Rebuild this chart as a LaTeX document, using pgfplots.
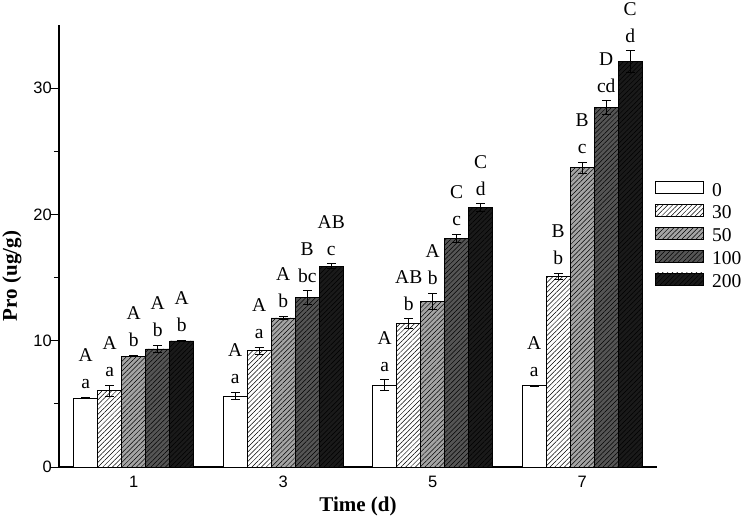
\documentclass[border=0pt]{standalone}
\usepackage{fontspec}
\setmainfont{Liberation Serif}
\newfontfamily\sansf{Liberation Sans}
\usepackage{pgfplots}
\pgfplotsset{compat=1.18}
\usepackage{pgfplotstable}
\usetikzlibrary{patterns.meta}
\definecolor{g50}{HTML}{A4A4A4}
\definecolor{g100}{HTML}{555555}
\definecolor{g200}{HTML}{1A1A1A}

\pgfplotstableread{
x y err lab
1 5.45 0.05 {A\\a}
3 5.62 0.30 {A\\a}
5 6.50 0.40 {A\\a}
7 6.43 0.05 {A\\a}
}\tzero
\pgfplotstableread{
x y err lab
1 6.03 0.45 {A\\a}
3 9.20 0.30 {A\\a}
5 11.35 0.40 {AB\\b}
7 15.08 0.25 {B\\b}
}\tthirty
\pgfplotstableread{
x y err lab
1 8.78 0.05 {A\\b}
3 11.80 0.15 {A\\b}
5 13.10 0.65 {A\\b}
7 23.70 0.45 {B\\c}
}\tfifty
\pgfplotstableread{
x y err lab
1 9.35 0.30 {A\\b}
3 13.40 0.55 {B\\bc}
5 18.10 0.35 {C\\c}
7 28.45 0.55 {D\\cd}
}\thundred
\pgfplotstableread{
x y err lab
1 9.98 0.05 {A\\b}
3 15.90 0.20 {AB\\c}
5 20.55 0.30 {C\\d}
7 32.10 0.85 {C\\d}
}\ttwohundred

\begin{document}
\begin{tikzpicture}
\begin{axis}[
  scale only axis, width=598pt, height=442pt,
  xmin=0, xmax=8, ymin=0, ymax=35,
  axis x line*=bottom, axis y line*=left,
  axis line style={line width=1.1pt, black},
  ybar=0pt, bar width=24pt,
  xtick={1,3,5,7}, xticklabels={1,3,5,7},
  ytick={0,10,20,30}, minor ytick={5,15,25},
  x tick style={draw=none},
  y tick style={line width=1pt, black},
  tick align=outside,
  major tick length=9pt, minor tick length=5pt,
  /pgf/number format/assume math mode=true,
  ticklabel style={font=\sansf\fontsize{16.5}{16.5}\selectfont},
  yticklabel style={anchor=east, inner sep=0pt, xshift=2pt},
  xticklabel style={anchor=north, inner sep=0pt, yshift=0pt},
  xlabel={Time (d)}, ylabel={Pro (ug/g)},
  every axis x label/.style={at={(axis description cs:0.5,0)}, anchor=base, yshift=-44pt, font=\bfseries\fontsize{21}{21}\selectfont},
  every axis y label/.style={at={(axis description cs:0,0.5)}, xshift=-42pt, yshift=-30pt, rotate=90, anchor=base, font=\bfseries\fontsize{21}{21}\selectfont},
  error bars/y dir=both, error bars/y explicit,
  error bars/error bar style={line width=0.9pt, black},
  error bars/error mark options={rotate=90, mark size=4.5pt, line width=0.9pt, black},
  nodes near coords, point meta=explicit symbolic,
  visualization depends on={\thisrow{err}\as\myerr},
  every node near coord/.append style={anchor=south, inner sep=0pt, align=center, font=\fontsize{19.5}{27}\selectfont, black, yshift={\myerr*12.63pt+8pt}},
  legend style={draw=none, fill=none, at={(axis description cs:0.997,0.647)}, anchor=north west, inner sep=0pt, row sep=6.4pt, font=\fontsize{19.5}{19.5}\selectfont, nodes={inner sep=0pt}},
  legend cell align=left,
  /tikz/every odd column/.append style={column sep=8pt},
  legend image code/.code={\draw[#1] (0pt,-3.2pt) rectangle (48pt,8.8pt);},
]
\addplot[draw=black, line width=0.8pt, fill=white]
  table[x=x, y=y, y error=err, meta=lab] {\tzero};
\addplot[draw=black, line width=0.8pt, fill=white, postaction={pattern={Lines[angle=45,distance=3.4pt,line width=0.5pt]}}]
  table[x=x, y=y, y error=err, meta=lab] {\tthirty};
\addplot[draw=black, line width=0.8pt, fill=g50, postaction={pattern={Lines[angle=45,distance=3.4pt,line width=0.5pt]}}]
  table[x=x, y=y, y error=err, meta=lab] {\tfifty};
\addplot[draw=black, line width=0.8pt, fill=g100, postaction={pattern={Lines[angle=45,distance=3.4pt,line width=0.5pt]}}]
  table[x=x, y=y, y error=err, meta=lab] {\thundred};
\addplot[draw=black, line width=0.8pt, fill=g200, postaction={pattern={Lines[angle=45,distance=3.4pt,line width=0.5pt]}}]
  table[x=x, y=y, y error=err, meta=lab] {\ttwohundred};
\legend{0,30,50,100,200}
\end{axis}
\pgfresetboundingbox
\path (-59pt,-50pt) rectangle (683pt,467pt);
\end{tikzpicture}
\end{document}
